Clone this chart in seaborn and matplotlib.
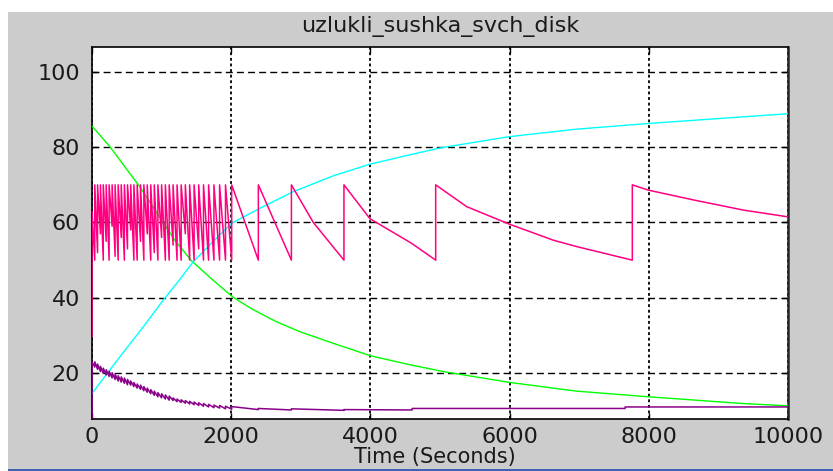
import matplotlib
matplotlib.use("Agg")
import matplotlib.pyplot as plt
from matplotlib.patches import Rectangle
import pandas as pd
import seaborn as sns

# ---- signals (time in seconds) ----
green_t = [0, 259, 690, 1193, 1431, 1743, 2030, 2300, 2653, 3000, 3467, 4000, 4569, 5048, 6006, 6964, 7921, 9358, 10000]
green_v = [85.6, 80.1, 69.4, 55.2, 49.8, 44.6, 40.1, 37.0, 33.6, 30.9, 27.9, 24.6, 22.2, 20.4, 17.5, 15.2, 13.8, 11.9, 11.3]

cyan_t = [0, 400, 737, 1025, 1250, 1456, 1743, 2007, 2414, 2893, 3467, 3994, 4617, 5000, 5991, 6964, 7993, 10000]
cyan_v = [14.6, 24.3, 32.3, 39.4, 44.6, 49.6, 55.0, 59.8, 63.8, 68.2, 72.4, 75.5, 78.2, 79.8, 82.8, 84.8, 86.3, 88.9]

# heater switching instants of the intermittent regime
pink_jump_t = [0, 40, 80, 121, 162, 204, 246, 289, 332, 376, 420, 465, 510, 556, 602,
               649, 697, 745, 794, 844, 895, 947, 1000, 1054, 1109, 1165, 1222, 1281,
               1341, 1403, 1467, 1533, 1602, 1675, 1752, 1833, 1918, 2007,
               2390, 2865, 3620, 4938, 7763]
# lowest value reached just before each switch-on
pink_trough = [50, 52, 57, 50, 55, 50, 59, 51, 50, 56, 50, 53, 58, 50, 50, 55, 50, 57,
               50, 52, 50, 56, 50, 50, 54, 50, 50, 57, 50, 50, 53, 50, 50, 50, 50, 50, 50,
               50, 50, 50, 50, 50]
pink_high = 70.0
pink_start_v = [29.7, 63.0]
# intermediate readings on the slow cooling branches
pink_mid_t = [3180, 3994, 4590, 5384, 5991, 6628, 6964, 7993, 8640, 9358, 10000]
pink_mid_v = [60.0, 61.0, 54.5, 64.2, 59.6, 55.3, 53.6, 68.6, 66.0, 63.3, 61.5]

purple_start_v = [7.0, 23.0]
purple_lo = [21.6, 21.0, 20.4, 19.9, 19.5, 19.1, 18.7, 18.3, 17.9, 17.6, 17.3, 16.9,
             16.8, 16.4, 16.0, 15.7, 15.3, 14.9, 14.5, 14.1, 13.7, 13.4, 13.1, 12.8,
             12.7, 12.4, 12.2, 12.0, 11.8, 11.6, 11.4, 11.2, 11.0, 10.8, 10.7, 10.5, 10.4]
purple_hi = [23.0, 22.4, 21.8, 21.3, 20.9, 20.5, 20.1, 19.7, 19.3, 19.0, 18.7, 18.3,
             17.9, 17.5, 17.1, 16.8, 16.4, 16.0, 15.6, 15.2, 14.8, 14.5, 14.2, 13.9,
             13.4, 13.1, 12.9, 12.7, 12.5, 12.3, 12.1, 11.9, 11.7, 11.5, 11.4, 11.2, 11.1]
purple_tail_t = [2390, 2390, 2865, 2865, 3620, 3620, 4600, 4600, 7660, 7660, 10000]
purple_tail_v = [10.3, 10.6, 10.2, 10.5, 10.1, 10.3, 10.2, 10.6, 10.6, 11.0, 11.0]

x_ticks = [0, 2000, 4000, 6000, 8000, 10000]
y_ticks = [20, 40, 60, 80, 100]
title_text = "uzlukli_sushka_svch_disk"
xlabel_text = "Time (Seconds)"

# ---- build polylines ----
pk_t = [0, 0]
pk_v = list(pink_start_v)
mids = list(zip(pink_mid_t, pink_mid_v))
prev = 0
for tj, low in zip(pink_jump_t[1:], pink_trough):
    for tm, vm in mids:
        if prev < tm < tj:
            pk_t.append(tm)
            pk_v.append(vm)
    pk_t += [tj, tj]
    pk_v += [low, pink_high]
    prev = tj
for tm, vm in mids:
    if tm > prev:
        pk_t.append(tm)
        pk_v.append(vm)
pink_df = pd.DataFrame({"t": pk_t, "v": pk_v})

# the load temperature kicks slightly at every switch-on in the dense regime
pu_t = [0, 0]
pu_v = list(purple_start_v)
for tj, lo, hi in zip(pink_jump_t[1:], purple_lo, purple_hi):
    pu_t += [tj, tj]
    pu_v += [lo, hi]
pu_t += purple_tail_t
pu_v += purple_tail_v
purple_df = pd.DataFrame({"t": pu_t, "v": pu_v})

green_df = pd.DataFrame({"t": green_t, "v": green_v})
cyan_df = pd.DataFrame({"t": cyan_t, "v": cyan_v})

# ---- figure ----
W, H = 833, 471
fig = plt.figure(figsize=(W / 100, H / 100), dpi=100, facecolor="white")

# window panel and bottom task-bar strip
fig.add_artist(Rectangle((8 / W, 2.5 / H), 1 - 8 / W, (H - 12 - 2.5) / H,
                         transform=fig.transFigure, facecolor="#cccccc",
                         edgecolor="none", zorder=-5))
fig.add_artist(Rectangle((8 / W, 0), 1 - 8 / W, 2.5 / H,
                         transform=fig.transFigure, facecolor="#3c64b4",
                         edgecolor="none", zorder=10))

ax_l, ax_r, ax_top, ax_bot = 92, 788, 46.7, 419
ax = fig.add_axes([ax_l / W, (H - ax_bot) / H, (ax_r - ax_l) / W, (ax_bot - ax_top) / H])
ax.set_facecolor("white")

lw = 1.0
sns.lineplot(data=green_df, x="t", y="v", ax=ax, color="#00ff00", lw=lw,
             sort=False, estimator=None, zorder=3)
sns.lineplot(data=cyan_df, x="t", y="v", ax=ax, color="#00ffff", lw=lw,
             sort=False, estimator=None, zorder=3)
sns.lineplot(data=pink_df, x="t", y="v", ax=ax, color="#ff0080", lw=1.1,
             sort=False, estimator=None, zorder=3)
sns.lineplot(data=purple_df, x="t", y="v", ax=ax, color="#8a008a", lw=1.1,
             sort=False, estimator=None, zorder=3)

ax.set_xlim(0, 10000)
ax.set_ylim(7.8, 106.7)
ax.set_xticks(x_ticks)
ax.set_yticks(y_ticks)
ax.set_xticklabels([str(v) for v in x_ticks])
ax.set_yticklabels([str(v) for v in y_ticks])

ax.yaxis.grid(True, color="black", lw=1.0, linestyle=(0, (5, 3)))
ax.xaxis.grid(True, color="black", lw=1.3, linestyle=(0, (1.6, 1.5)))

ax.tick_params(axis="both", direction="in", length=4, width=1.0, colors="black",
               top=True, right=True, labelsize=16, labelcolor="#1a1a1a")
ax.tick_params(axis="y", pad=8.5)
ax.tick_params(axis="x", pad=6)

for side, sp in ax.spines.items():
    sp.set_color("black")
    sp.set_linewidth(1.2)
ax.spines["right"].set_linewidth(1.8)
ax.spines["right"].set_color("#262626")

ax.set_ylabel("")
ax.set_xlabel(xlabel_text, fontsize=15, color="#1a1a1a")
ax.xaxis.set_label_coords(0.493, -0.0765)
ax.set_title(title_text, fontsize=16, color="#1a1a1a", pad=10.6)

fig.savefig("out.png", dpi=100, facecolor="white")
